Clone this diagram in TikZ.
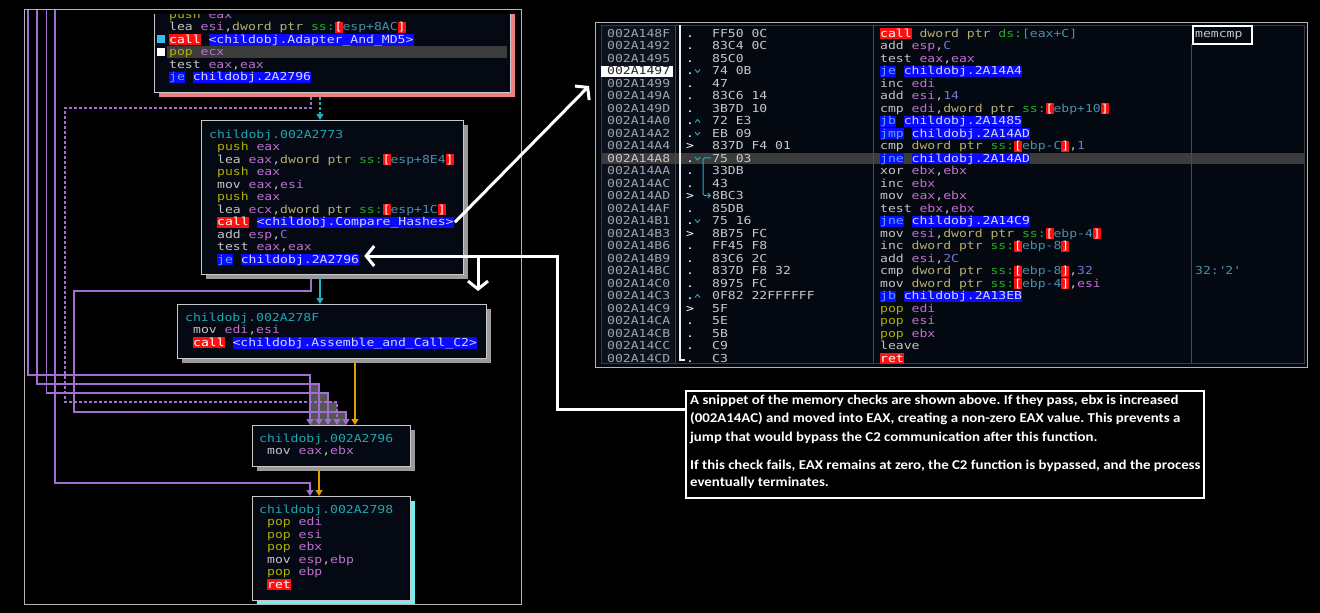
\documentclass[tikz,border=0pt]{standalone}
\usepackage{fontspec}
\usetikzlibrary{arrows.meta,shadows}
\newfontfamily\codefam[FakeStretch=1.19]{DejaVu Sans Mono}
\newfontfamily\notefam[FakeStretch=1.1]{Carlito}
\newcommand\codefont{\codefam\fontsize{11}{12.5}\selectfont}

% debugger colour scheme
\definecolor{blkbg}{HTML}{040913}
\definecolor{panelbg}{HTML}{040810}
\definecolor{addrbg}{HTML}{0B111D}
\definecolor{blkborder}{HTML}{C8C8C8}
\definecolor{framegray}{HTML}{B4B4B4}
\definecolor{shgray}{HTML}{9A9A9A}
\definecolor{shpink}{HTML}{F08080}
\definecolor{shcyan}{HTML}{70F0F0}
\definecolor{ttl}{HTML}{1FA8B0}
\definecolor{mnem}{HTML}{C4C4C4}
\definecolor{stk}{HTML}{B0B000}
\definecolor{reg}{HTML}{C070D0}
\definecolor{dwc}{HTML}{B8B070}
\definecolor{seg}{HTML}{20B020}
\definecolor{memc}{HTML}{4A90A8}
\definecolor{numc}{HTML}{7078D8}
\definecolor{hlred}{HTML}{FF1010}
\definecolor{hlblue}{HTML}{0A0AFF}
\definecolor{jmc}{HTML}{55A8FF}
\definecolor{tgt}{HTML}{D4D4FF}
\definecolor{addrc}{HTML}{A0A4AC}
\definecolor{bytec}{HTML}{C8C8C8}
\definecolor{edgeP}{HTML}{A070D0}
\definecolor{edgeO}{HTML}{E0A000}
\definecolor{edgeT}{HTML}{20B0C0}
\definecolor{rowhl}{HTML}{3C3C3C}
\definecolor{stair}{HTML}{555555}

\setlength\fboxsep{0pt}
\newcommand\hs{\rule[-2pt]{0pt}{11pt}}
\newcommand\cMn[1]{\textcolor{mnem}{#1}}
\newcommand\cSt[1]{\textcolor{stk}{#1}}
\newcommand\cRg[1]{\textcolor{reg}{#1}}
\newcommand\cDw[1]{\textcolor{dwc}{#1}}
\newcommand\cSg[1]{\textcolor{seg}{#1}}
\newcommand\cNm[1]{\textcolor{numc}{#1}}
\newcommand\cTl[1]{\textcolor{ttl}{#1}}
\newcommand\cMem[1]{\colorbox{hlred}{\hs\textcolor{white}{[}}\textcolor{memc}{#1}\colorbox{hlred}{\hs\textcolor{white}{]}}}
\newcommand\cRed[1]{\colorbox{hlred}{\hs\textcolor{white}{#1}}}
\newcommand\cBl[2]{\colorbox{hlblue}{\hs\textcolor{jmc}{#1}} \colorbox{hlblue}{\hs\textcolor{tgt}{#2}}}
\newcommand\cCall[1]{\cRed{call} \colorbox{hlblue}{\hs\textcolor{tgt}{#1}}}

\newcounter{cln}
% one line of code: x, vertical centre, content
\newcommand\cl[3]{\stepcounter{cln}\node[ctext] (cl\arabic{cln}) at (#1,{#2+4}) {#3};}
% one row of the disassembly listing
\newcommand\rrow[5]{\pgfmathsetmacro\ry{37+12.5*#1}%
  \node[ctext,text=addrc] (ra#1) at (607,\ry) {#3};
  \node[ctext,text=white] (rm#1) at (686,\ry) {#2};
  \node[ctext,text=bytec] (rb#1) at (712,\ry) {#4};
  \node[ctext] (rd#1) at (880,\ry) {#5};}
% small branch chevron: row, direction (1 down, -1 up)
\newcommand\chv[2]{\pgfmathsetmacro\cy{33.5+12.5*#1}%
  \draw[edgeT, line width=0.9pt] (695,{\cy-1.5*#2}) -- (697.5,{\cy+1.5*#2}) -- (700,{\cy-1.5*#2});}

\tikzset{
  ctext/.style={anchor=base west, inner sep=0pt, font=\codefont, text=mnem},
  nt/.style={anchor=base west, inner sep=0pt, text=white, font=\notefam\bfseries\fontsize{13.5}{16}\selectfont\frenchspacing},
  blk/.style={anchor=north west, inner sep=0pt, fill=blkbg, draw=blkborder, line width=1pt},
  gshadow/.style={drop shadow={shadow xshift=4pt, shadow yshift=-4pt, fill=shgray, opacity=1}},
  pshadow/.style={drop shadow={shadow xshift=4pt, shadow yshift=-4pt, fill=shpink, opacity=1}},
  cshadow/.style={drop shadow={shadow xshift=4pt, shadow yshift=-4pt, fill=shcyan, opacity=1}},
  tri/.tip={Triangle[length=6pt,width=7pt]},
  pl/.style={draw=edgeP, line width=1.2pt, -tri},
  ol/.style={draw=edgeO, line width=1.2pt, -tri},
  tl/.style={draw=edgeT, line width=1.2pt, -tri},
  wa/.style={draw=white, line width=3pt, -{Straight Barb[length=8pt,width=20pt]}},
}

\begin{document}
\begin{tikzpicture}[x=1pt,y=-1pt]
\useasboundingbox (0,0) rectangle (1320,613);
\fill[black] (0,0) rectangle (1320,613);

% ---------------- control flow graph ----------------
\node[anchor=north west, inner sep=0pt, minimum width=497.5, minimum height=594.5] (lframe) at (23.5,9) {};

\begin{scope}
\clip (24,9.6) rectangle (520.5,603);
% overlapping edge bundle
\fill[stair] (310,384) -- (319,384) -- (319,393) -- (328,393) -- (328,402) -- (337,402)
  -- (337,412) -- (346,412) -- (346,425) -- (310,425) -- cycle;

\node[blk, gshadow, minimum width=262, minimum height=154] (b2773) at (201,120) {};
\node[blk, gshadow, minimum width=309, minimum height=54] (b278F) at (177,304) {};
\node[blk, gshadow, minimum width=158, minimum height=41] (b2796) at (252,425) {};
\node[blk, cshadow, minimum width=158, minimum height=104] (b2798) at (252,496) {};

% block ending in the MD5 call, cut by the top of the view
\begin{scope}
\clip (140,14.5) rectangle (520.5,110);
\node[blk, pshadow, minimum width=356, minimum height=112] (btop) at (154,-20) {};
\fill[rowhl] (167,46) rectangle (507,57.5);
\fill[cyan!80!white] (157,35) rectangle (165,43);
\fill[white] (157,47.5) rectangle (165,55.5);
\cl{169}{14}{\cSt{push} \cRg{eax}}
\cl{169}{26.5}{\cMn{lea} \cRg{esi},\cDw{dword ptr} \cSg{ss:}\cMem{esp+8AC}}
\cl{169}{39}{\cCall{<childobj.Adapter\_And\_MD5>}}
\cl{169}{51.5}{\cSt{pop} \cRg{ecx}}
\cl{169}{64}{\cMn{test} \cRg{eax},\cRg{eax}}
\cl{169}{76.5}{\cBl{je}{childobj.2A2796}}
\end{scope}

% edges
\coordinate (k1) at (28,375);
\coordinate (k2) at (37,384);
\coordinate (k3) at (46.5,393);
\coordinate (k4a) at (65,108);
\coordinate (k4b) at (65,402);
\coordinate (k5a) at (74,291);
\coordinate (k5b) at (74,412);
\coordinate (k6) at (55,483);
\draw[pl] ([xshift=4.5pt]lframe.north west) -- (k1) -| ([xshift=58pt]b2796.north west);
\draw[pl] ([xshift=13.5pt]lframe.north west) -- (k2) -| ([xshift=67pt]b2796.north west);
\draw[pl] ([xshift=23pt]lframe.north west) -- (k3) -| ([xshift=76pt]b2796.north west);
\draw[pl, dash pattern=on 3pt off 2pt] ([xshift=157pt,yshift=-4pt]btop.south west) |- (k4a) -- (k4b) -| ([xshift=85pt]b2796.north west);
\draw[pl] ([xshift=110pt,yshift=-3pt]b2773.south west) |- (k5a) -- (k5b) -| ([xshift=94pt]b2796.north west);
\draw[pl] ([xshift=31.5pt]lframe.north west) -- (k6) -| ([xshift=58pt]b2798.north west);
\draw[ol] ([xshift=178pt,yshift=-3pt]b278F.south west) -- ([xshift=103pt]b2796.north west);
\draw[ol] ([xshift=67pt,yshift=-3pt]b2796.south west) -- ([xshift=67pt]b2798.north west);
\draw[tl, dash pattern=on 3pt off 2pt] ([xshift=166pt,yshift=-4pt]btop.south west) -- ([xshift=119pt]b2773.north west);
\draw[tl] ([xshift=119pt,yshift=-3pt]b2773.south west) -- ([xshift=143pt]b278F.north west);
\end{scope}

\node[anchor=north west, draw=framegray, line width=1.2pt, minimum width=497.5, minimum height=594.5] at (23.5,9) {};

% block 002A2773
\cl{209}{134}{\cTl{childobj.002A2773}}
\cl{217}{146.5}{\cSt{push} \cRg{eax}}
\cl{217}{159}{\cMn{lea} \cRg{eax},\cDw{dword ptr} \cSg{ss:}\cMem{esp+8E4}}
\cl{217}{171.5}{\cSt{push} \cRg{eax}}
\cl{217}{184}{\cMn{mov} \cRg{eax},\cRg{esi}}
\cl{217}{196.5}{\cSt{push} \cRg{eax}}
\cl{217}{209}{\cMn{lea} \cRg{ecx},\cDw{dword ptr} \cSg{ss:}\cMem{esp+1C}}
\node[ctext] (mcall) at (217,225.5) {\cCall{<childobj.Compare\_Hashes>}};
\cl{217}{234}{\cMn{add} \cRg{esp},\cNm{C}}
\cl{217}{246.5}{\cMn{test} \cRg{eax},\cRg{eax}}
\node[ctext] (mje) at (217,263) {\cBl{je}{childobj.2A2796}};

% block 002A278F
\cl{185}{317}{\cTl{childobj.002A278F}}
\cl{193}{329.5}{\cMn{mov} \cRg{edi},\cRg{esi}}
\cl{193}{342}{\cCall{<childobj.Assemble\_and\_Call\_C2>}}

% block 002A2796
\cl{259}{438}{\cTl{childobj.002A2796}}
\cl{267}{450.5}{\cMn{mov} \cRg{eax},\cRg{ebx}}

% block 002A2798
\cl{259}{509}{\cTl{childobj.002A2798}}
\cl{267}{521.5}{\cSt{pop} \cRg{edi}}
\cl{267}{534}{\cSt{pop} \cRg{esi}}
\cl{267}{546.5}{\cSt{pop} \cRg{ebx}}
\cl{267}{559}{\cMn{mov} \cRg{esp},\cRg{ebp}}
\cl{267}{571.5}{\cSt{pop} \cRg{ebp}}
\cl{267}{584}{\cRed{ret}}

% ---------------- disassembly listing ----------------
\node[anchor=north west, draw=framegray, line width=1.2pt, fill=panelbg, minimum width=712, minimum height=345] (rpanel) at (595,22) {};
\fill[addrbg] (602,25) rectangle (674,363);
\draw[gray!45!black, line width=0.8pt] (601,25) rectangle (1304,363);
\fill[rowhl] (602,152.5) rectangle (1304,164);
\draw[gray!60!black, line width=1pt] (675,25) -- (675,363);
\draw[gray!60!black, line width=1pt] (873,25) -- (873,363);
\draw[gray!60!black, line width=1pt] (1191,44) -- (1191,363);
\fill[white] (601,65.5) rectangle (673,77);
\draw[white!88!gray, line width=1.2pt] (680,25) -- (680,360) -- (685,360);

\rrow{0}{.}{002A148F}{FF50 0C}{\cRed{call} \cDw{dword ptr} \cSg{ds:}\textcolor{memc}{[eax+C]}}
\rrow{1}{.}{002A1492}{83C4 0C}{\cMn{add} \cRg{esp},\cNm{C}}
\rrow{2}{.}{002A1495}{85C0}{\cMn{test} \cRg{eax},\cRg{eax}}
\rrow{3}{.}{\textcolor{black!85}{002A1497}}{74 0B}{\cBl{je}{childobj.2A14A4}}
\rrow{4}{.}{002A1499}{47}{\cMn{inc} \cRg{edi}}
\rrow{5}{.}{002A149A}{83C6 14}{\cMn{add} \cRg{esi},\cNm{14}}
\rrow{6}{.}{002A149D}{3B7D 10}{\cMn{cmp} \cRg{edi},\cDw{dword ptr} \cSg{ss:}\cMem{ebp+10}}
\rrow{7}{.}{002A14A0}{72 E3}{\cBl{jb}{childobj.2A1485}}
\rrow{8}{.}{002A14A2}{EB 09}{\cBl{jmp}{childobj.2A14AD}}
\rrow{9}{>}{002A14A4}{837D F4 01}{\cMn{cmp} \cDw{dword ptr} \cSg{ss:}\cMem{ebp-C},\cNm{1}}
\rrow{10}{.}{\textcolor{bytec}{002A14A8}}{75 03}{\cBl{jne}{childobj.2A14AD}}
\rrow{11}{.}{002A14AA}{33DB}{\cMn{xor} \cRg{ebx},\cRg{ebx}}
\rrow{12}{.}{002A14AC}{43}{\cMn{inc} \cRg{ebx}}
\rrow{13}{>}{002A14AD}{8BC3}{\cMn{mov} \cRg{eax},\cRg{ebx}}
\rrow{14}{.}{002A14AF}{85DB}{\cMn{test} \cRg{ebx},\cRg{ebx}}
\rrow{15}{.}{002A14B1}{75 16}{\cBl{jne}{childobj.2A14C9}}
\rrow{16}{>}{002A14B3}{8B75 FC}{\cMn{mov} \cRg{esi},\cDw{dword ptr} \cSg{ss:}\cMem{ebp-4}}
\rrow{17}{.}{002A14B6}{FF45 F8}{\cMn{inc} \cDw{dword ptr} \cSg{ss:}\cMem{ebp-8}}
\rrow{18}{.}{002A14B9}{83C6 2C}{\cMn{add} \cRg{esi},\cNm{2C}}
\rrow{19}{.}{002A14BC}{837D F8 32}{\cMn{cmp} \cDw{dword ptr} \cSg{ss:}\cMem{ebp-8},\cNm{32}}
\rrow{20}{.}{002A14C0}{8975 FC}{\cMn{mov} \cDw{dword ptr} \cSg{ss:}\cMem{ebp-4},\cRg{esi}}
\rrow{21}{.}{002A14C3}{0F82 22FFFFFF}{\cBl{jb}{childobj.2A13EB}}
\rrow{22}{>}{002A14C9}{5F}{\cSt{pop} \cRg{edi}}
\rrow{23}{.}{002A14CA}{5E}{\cSt{pop} \cRg{esi}}
\rrow{24}{.}{002A14CB}{5B}{\cSt{pop} \cRg{ebx}}
\rrow{25}{.}{002A14CC}{C9}{\cMn{leave}}
\rrow{26}{.}{002A14CD}{C3}{\cRed{ret}}

\chv{3}{1}
\chv{7}{-1}
\chv{8}{1}
\chv{10}{1}
\chv{15}{1}
\chv{21}{-1}
\draw[edgeT, line width=1pt, rounded corners=1.5pt, -{Straight Barb[length=2.5pt,width=5pt]}]
  ([xshift=-1pt]rb10.west) -- ++(-8,0) |- ([xshift=-1pt]rb13.west);

% comment column
\node[anchor=north west, draw=white, line width=2pt, fill=panelbg, minimum width=59, minimum height=18, inner sep=0pt] (cmt) at (1192,25) {};
\node[ctext, text=bytec] (cmtx) at (1195,37) {memcmp};
\node[ctext, text=memc] (c32) at (1195,274.5) {32:\textquotesingle 2\textquotesingle};

% ---------------- explanation ----------------
\node[anchor=north west, draw=white, line width=2pt, fill=black, minimum width=518, minimum height=107] (note) at (685,390) {};
\node[nt] (n1) at (690,404.5) {A snippet of the memory checks are shown above. If they pass, ebx is increased};
\node[nt] (n2) at (690,422.5) {(002A14AC) and moved into EAX, creating a non-zero EAX value. This prevents a};
\node[nt] (n3) at (690,441) {jump that would bypass the C2 communication after this function.};
\node[nt] (n4) at (690,469) {If this check fails, EAX remains at zero, the C2 function is bypassed, and the process};
\node[nt] (n5) at (690,486.5) {eventually terminates.};

% pointers
\coordinate (w1b) at (589,86);
\coordinate (w2b) at (557,256);
\coordinate (w3a) at (478,256);
\path ([xshift=5pt]mje.east) coordinate (jx);
\draw[wa] ([xshift=1pt]mcall.east) -- (w1b);
\draw[wa] ([yshift=-19pt]note.north west) -| (w2b) -- (jx |- w2b);
\draw[wa] (w3a) -- ++(0,35);
\end{tikzpicture}
\end{document}
